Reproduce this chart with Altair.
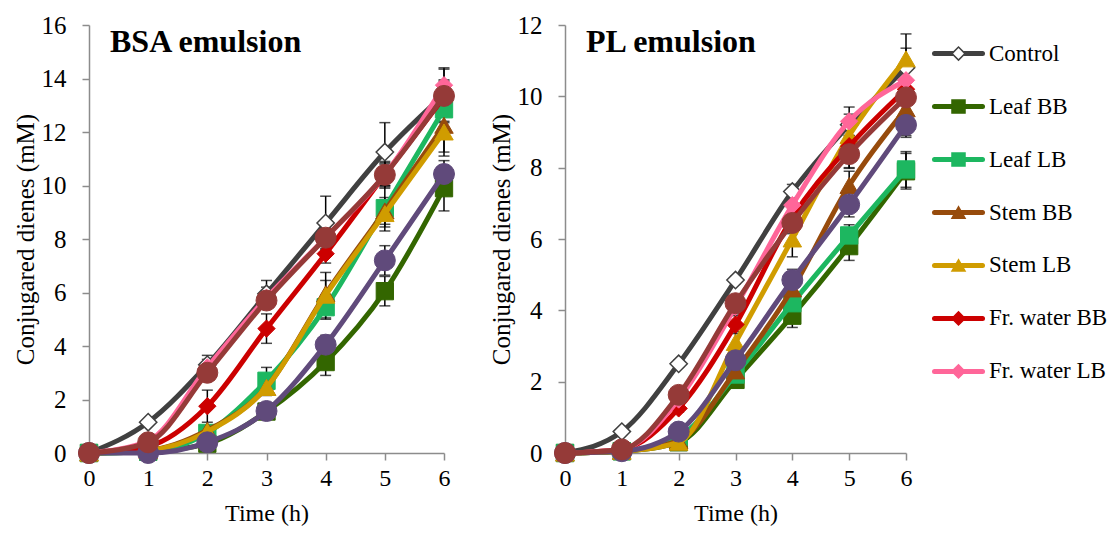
import altair as alt
import pandas as pd

hours = [0, 1, 2, 3, 4, 5, 6]
series = ["Control", "Leaf BB", "Leaf LB", "Stem BB", "Stem LB",
          "Fr. water BB", "Fr. water LB", "Series 8", "Series 9"]
legend_series = series[:7]
panel_titles = ["BSA emulsion", "PL emulsion"]

# ---- BSA emulsion (mean values, mM) ----
bsa_control = [0, 1.15, 3.3, 5.95, 8.6, 11.25, 13.4]
bsa_leaf_bb = [0, 0.05, 0.35, 1.55, 3.4, 6.05, 9.9]
bsa_leaf_lb = [0, 0.05, 0.75, 2.7, 5.45, 9.15, 12.85]
bsa_stem_bb = [0, 0.1, 0.85, 2.45, 5.95, 9.05, 12.25]
bsa_stem_lb = [0, 0.1, 0.8, 2.45, 5.9, 8.95, 12.0]
bsa_frw_bb = [0, 0.25, 1.75, 4.65, 7.45, 10.4, 13.3]
bsa_frw_lb = [0, 0.45, 3.2, 5.8, 8.05, 10.4, 13.75]
bsa_s8 = [0, 0.0, 0.4, 1.57, 4.05, 7.2, 10.43]
bsa_s9 = [0, 0.4, 3.0, 5.7, 8.05, 10.4, 13.35]

# ---- BSA error bars ----
bsa_control_err = [0, 0.1, 0.35, 0.5, 1.0, 1.1, 1.0]
bsa_leaf_bb_err = [0, 0, 0.05, 0.1, 0.5, 0.55, 0.85]
bsa_leaf_lb_err = [0, 0, 0.1, 0.5, 0.45, 0.85, 0.5]
bsa_stem_bb_err = [0, 0, 0.1, 0.3, 0.5, 0.5, 1.0]
bsa_stem_lb_err = [0, 0, 0.1, 0.2, 0.85, 0.5, 0.9]
bsa_frw_bb_err = [0, 0.05, 0.6, 0.55, 0.35, 0.4, 0.6]
bsa_frw_lb_err = [0, 0.05, 0.3, 0.4, 0.5, 0.5, 0.6]
bsa_s8_err = [0, 0, 0.05, 0.1, 0.35, 0.55, 0.5]
bsa_s9_err = [0, 0.05, 0.2, 0.3, 0.4, 0.45, 0.6]

# ---- PL emulsion (mean values, mM) ----
pl_control = [0, 0.6, 2.5, 4.85, 7.33, 9.2, 10.8]
pl_leaf_bb = [0, 0.05, 0.3, 2.05, 3.85, 5.8, 7.9]
pl_leaf_lb = [0, 0.05, 0.45, 2.2, 4.2, 6.1, 7.95]
pl_stem_bb = [0, 0.05, 0.35, 2.3, 4.6, 7.5, 9.65]
pl_stem_lb = [0, 0.05, 0.3, 3.1, 6.0, 8.9, 11.05]
pl_frw_bb = [0, 0.1, 1.25, 3.6, 6.6, 8.6, 10.2]
pl_frw_lb = [0, 0.1, 1.5, 4.1, 6.95, 9.3, 10.45]
pl_s8 = [0, 0.05, 0.6, 2.6, 4.85, 6.97, 9.2]
pl_s9 = [0, 0.1, 1.63, 4.2, 6.45, 8.38, 9.97]

# ---- PL error bars ----
pl_control_err = [0, 0.05, 0.1, 0.1, 0.2, 0.3, 0.95]
pl_leaf_bb_err = [0, 0, 0.05, 0.15, 0.33, 0.4, 0.5]
pl_leaf_lb_err = [0, 0, 0.05, 0.1, 0.3, 0.3, 0.5]
pl_stem_bb_err = [0, 0, 0.05, 0.2, 0.3, 0.4, 0.75]
pl_stem_lb_err = [0, 0, 0.05, 0.3, 0.5, 0.4, 0.3]
pl_frw_bb_err = [0, 0, 0.1, 0.25, 0.3, 0.6, 0.3]
pl_frw_lb_err = [0, 0, 0.1, 0.2, 0.3, 0.4, 0.3]
pl_s8_err = [0, 0, 0.05, 0.2, 0.3, 0.35, 0.35]
pl_s9_err = [0, 0, 0.1, 0.2, 0.3, 0.4, 0.5]

bsa_vals = [bsa_control, bsa_leaf_bb, bsa_leaf_lb, bsa_stem_bb, bsa_stem_lb,
            bsa_frw_bb, bsa_frw_lb, bsa_s8, bsa_s9]
bsa_errs = [bsa_control_err, bsa_leaf_bb_err, bsa_leaf_lb_err, bsa_stem_bb_err,
            bsa_stem_lb_err, bsa_frw_bb_err, bsa_frw_lb_err, bsa_s8_err, bsa_s9_err]
pl_vals = [pl_control, pl_leaf_bb, pl_leaf_lb, pl_stem_bb, pl_stem_lb,
           pl_frw_bb, pl_frw_lb, pl_s8, pl_s9]
pl_errs = [pl_control_err, pl_leaf_bb_err, pl_leaf_lb_err, pl_stem_bb_err,
           pl_stem_lb_err, pl_frw_bb_err, pl_frw_lb_err, pl_s8_err, pl_s9_err]

rows = []
for panel_name, vals, errs in [("BSA", bsa_vals, bsa_errs), ("PL", pl_vals, pl_errs)]:
    for s, v, e in zip(series, vals, errs):
        for h, vv, ee in zip(hours, v, e):
            rows.append({"panel": panel_name, "series": s, "hour": h,
                         "value": vv, "err": ee, "lo": vv - ee, "hi": vv + ee})
df = pd.DataFrame(rows)

# ---- styles ----
line_colors = {
    "Control": "#404040", "Leaf BB": "#336600", "Leaf LB": "#1DB760",
    "Stem BB": "#974B0C", "Stem LB": "#D09C00", "Fr. water BB": "#CC0000",
    "Fr. water LB": "#FF6699", "Series 8": "#604A7B", "Series 9": "#953A38",
}
shapes = {
    "Control": "diamond", "Leaf BB": "square", "Leaf LB": "square",
    "Stem BB": "triangle-up", "Stem LB": "triangle-up", "Fr. water BB": "diamond",
    "Fr. water LB": "diamond", "Series 8": "circle", "Series 9": "circle",
}
sizes = {
    "diamond": 300, "square": 300, "triangle-up": 340, "circle": 440,
}
FONT = "Liberation Serif"


def panel(name, title, ymax, width):
    d = df[df.panel == name]
    xscale = alt.Scale(domain=[0, 6], nice=False)
    yscale = alt.Scale(domain=[0, ymax], nice=False)
    xaxis = alt.Axis(title="Time (h)", values=hours, format="d")
    yaxis = alt.Axis(title="Conjugared dienes (mM)",
                     values=list(range(0, ymax + 1, 2)), format="d")
    x = alt.X("hour:Q", scale=xscale, axis=xaxis)
    y = alt.Y("value:Q", scale=yscale, axis=yaxis)

    eb = d[d.err > 0]
    layers = [
        alt.Chart(eb).mark_rule(color="black", strokeWidth=1.5).encode(
            x=x, y=alt.Y("lo:Q", scale=yscale, axis=yaxis), y2="hi:Q"),
        alt.Chart(eb).mark_tick(orient="horizontal", color="black", thickness=1.5,
                                size=11).encode(
            x=x, y=alt.Y("lo:Q", scale=yscale, axis=yaxis)),
        alt.Chart(eb).mark_tick(orient="horizontal", color="black", thickness=1.5,
                                size=11).encode(
            x=x, y=alt.Y("hi:Q", scale=yscale, axis=yaxis)),
    ]
    for s in series:
        sd = d[d.series == s]
        c = line_colors[s]
        shp = shapes[s]
        layers.append(
            alt.Chart(sd).mark_line(interpolate="monotone", strokeWidth=5,
                                    color=c).encode(x=x, y=y))
        if s == "Control":
            pt = alt.Chart(sd).mark_point(shape=shp, size=sizes[shp], filled=True,
                                          fill="white", stroke=c, strokeWidth=1.5,
                                          opacity=1)
        else:
            pt = alt.Chart(sd).mark_point(shape=shp, size=sizes[shp], filled=True,
                                          fill=c, stroke=c, strokeWidth=1,
                                          opacity=1)
        layers.append(pt.encode(x=x, y=y))

    # panel heading drawn inside the plot area
    ttl = alt.Chart(pd.DataFrame({"t": [title]})).mark_text(
        align="left", baseline="alphabetic", font=FONT, fontSize=32,
        fontWeight="bold", color="black").encode(
        text="t:N", x=alt.value(21), y=alt.value(27))
    layers.append(ttl)

    return alt.layer(*layers).properties(width=width, height=428)


left = panel("BSA", panel_titles[0], 16, 355)
right = panel("PL", panel_titles[1], 12, 341)

# ---- legend panel ----
leg_df = pd.DataFrame({"series": legend_series})
ly = alt.Y("series:N", sort=legend_series, axis=None,
           scale=alt.Scale(type="point", padding=0.54))
leg_colors = [line_colors[s] for s in legend_series]
leg_fills = ["white" if s == "Control" else line_colors[s] for s in legend_series]
leg_shapes = [shapes[s] for s in legend_series]

leg_rule = alt.Chart(leg_df).mark_rule(strokeWidth=5, strokeCap="round").encode(
    x=alt.value(2.5), x2=alt.value(50.5), y=ly,
    color=alt.Color("series:N", scale=alt.Scale(domain=legend_series, range=leg_colors),
                    legend=None))
leg_pt = alt.Chart(leg_df).mark_point(filled=True, size=170, strokeWidth=1.5,
                                      opacity=1).encode(
    x=alt.value(26.5), y=ly,
    shape=alt.Shape("series:N", scale=alt.Scale(domain=legend_series, range=leg_shapes),
                    legend=None),
    fill=alt.Fill("series:N", scale=alt.Scale(domain=legend_series, range=leg_fills),
                  legend=None),
    stroke=alt.Stroke("series:N", scale=alt.Scale(domain=legend_series, range=leg_colors),
                      legend=None))
leg_txt = alt.Chart(leg_df).mark_text(align="left", baseline="middle", fontSize=23,
                                      font=FONT, color="black").encode(
    x=alt.value(57), y=ly, text="series:N")
legend_chart = alt.layer(leg_rule, leg_pt, leg_txt).properties(width=170, height=375)

chart = alt.hconcat(
    alt.hconcat(left, right, spacing=31),
    legend_chart,
    spacing=12,
).properties(
    padding={"left": 4, "top": 4, "right": 0, "bottom": 0},
).configure_view(
    stroke="transparent",
).configure_axis(
    labelFont=FONT, labelFontSize=25, labelColor="black", labelFlush=False,
    titleFont=FONT, titleFontSize=25, titleFontWeight="normal", titleColor="black",
    domainColor="#8c8c8c", domainWidth=1.5, tickColor="#8c8c8c", tickWidth=1.5,
    tickSize=7, grid=False,
).configure_axisX(
    labelPadding=6, titlePadding=11, labelFontSize=24, titleFontSize=24,
).configure_axisY(
    labelPadding=16, titlePadding=3,
)

chart.save("out.html", embed_options={"renderer": "svg", "actions": False})
